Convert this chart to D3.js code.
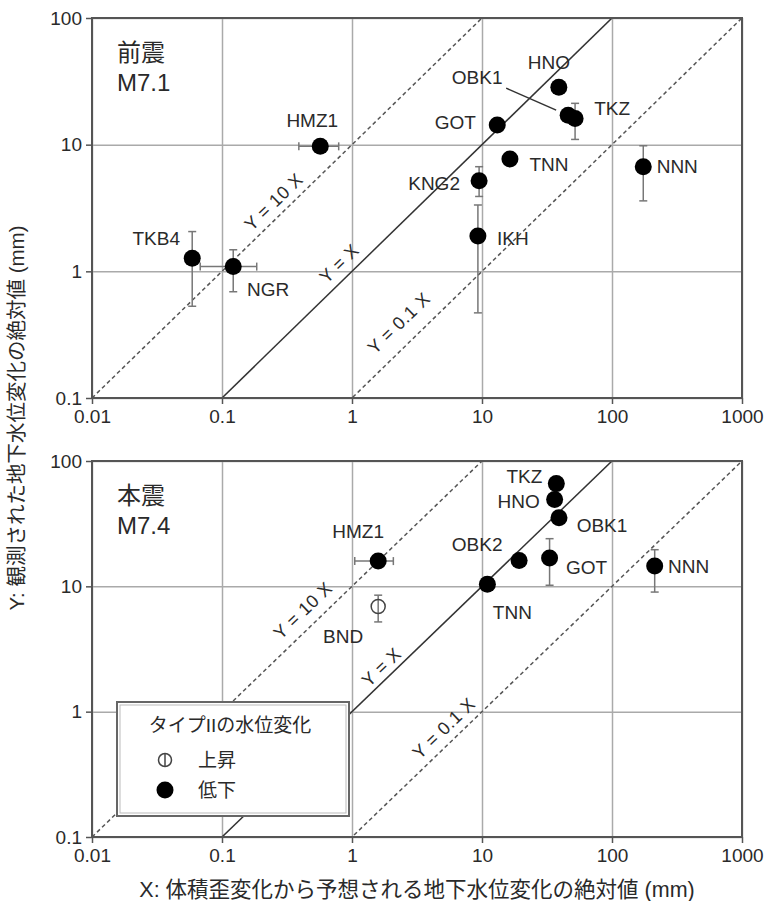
<!DOCTYPE html>
<html>
<head>
<meta charset="utf-8">
<script src="https://cdn.jsdelivr.net/npm/d3@7"></script>
<style>
  body { margin: 0; background: #fff; }
  svg text { font-family: "Liberation Sans", "Noto Sans CJK JP", sans-serif; fill: #2a2a2a; }
</style>
</head>
<body>
<svg id="chart" width="768" height="901"></svg>
<script>
// tick values (log axes)
var xTicks = [0.01, 0.1, 1, 10, 100, 1000];
var yTicks = [0.1, 1, 10, 100];

// 前震 M7.1
var foreNames = ["HMZ1", "TKB4", "NGR", "HNO", "OBK1", "TKZ", "GOT", "TNN", "KNG2", "IKH", "NNN"];
var foreX     = [0.57, 0.059, 0.122, 39, 46, 52, 13.1, 16.4, 9.5, 9.3, 174];
var foreY     = [9.7, 1.27, 1.09, 28.4, 17.1, 16.1, 14.3, 7.7, 5.2, 1.9, 6.7];
var foreXErr  = { HMZ1: [0.39, 0.79], NGR: [0.068, 0.185] };
var foreYErr  = { TKB4: [0.53, 2.06], NGR: [0.69, 1.48], TKZ: [11.0, 21.2], KNG2: [3.9, 6.7], IKH: [0.47, 3.34], NNN: [3.6, 9.8] };

// 本震 M7.4
var mainNames = ["HMZ1", "BND", "TKZ", "HNO", "OBK1", "OBK2", "GOT", "TNN", "NNN"];
var mainX     = [1.59, 1.59, 37.3, 36.2, 39.1, 19.3, 33.1, 11.0, 213];
var mainY     = [15.9, 6.9, 66, 49.4, 35.3, 16.1, 16.8, 10.4, 14.5];
var mainType  = ["低下", "上昇", "低下", "低下", "低下", "低下", "低下", "低下", "低下"];
var mainXErr  = { HMZ1: [1.05, 2.08] };
var mainYErr  = { BND: [5.2, 8.5], GOT: [10.2, 24], NNN: [9.0, 19.6] };

// reference lines Y = k X
var refK = [10, 1, 0.1];
var refText = ["Y = 10 X", "Y = X", "Y = 0.1 X"];

// label placement (pixels from the point)
var foreLabelOff = {
    HMZ1: [-8, -26], TKB4: [-36, -20], NGR: [35, 23], HNO: [-10, -25], OBK1: [-91, -38],
    TKZ: [37, -10], GOT: [-42, -2], TNN: [39, 5], KNG2: [-45, 3], IKH: [35, 2], NNN: [34, 0]
};
var mainLabelOff = {
    HMZ1: [-20, -30], BND: [-35, 30], TKZ: [-32, -7], HNO: [-36, 2], OBK1: [43, 8],
    OBK2: [-42, -16], GOT: [37, 9], TNN: [25, 28], NNN: [34, 0]
};

var svg = d3.select("#chart");
var left = 92, right = 742;
var xScale = d3.scaleLog().domain([0.01, 1000]).range([left, right]);

var panels = [
    { title: "前震", mag: "M7.1", top: 18, bottom: 398,
      names: foreNames, xs: foreX, ys: foreY, xErr: foreXErr, yErr: foreYErr,
      types: foreNames.map(function() { return "低下"; }), off: foreLabelOff,
      refAt: [0.25, 0.8, 2.3], refDy: [-19, -20, -29] },
    { title: "本震", mag: "M7.4", top: 461, bottom: 837,
      names: mainNames, xs: mainX, ys: mainY, xErr: mainXErr, yErr: mainYErr,
      types: mainType, off: mainLabelOff,
      refAt: [0.42, 1.69, 5.1], refDy: [-23, -16, -20] }
];

panels.forEach(function(p, pi) {
    var yScale = d3.scaleLog().domain([0.1, 100]).range([p.bottom, p.top]);
    var g = svg.append("g");
    var h = p.bottom - p.top;

    //gridlines
    g.append("g")
        .attr("transform", "translate(0," + p.bottom + ")")
        .call(d3.axisBottom(xScale).tickValues(xTicks).tickSize(-h).tickFormat(""))
        .call(function(a) { a.select(".domain").remove(); a.selectAll("line").attr("stroke", "#aaa").attr("stroke-width", 1.5); });
    g.append("g")
        .attr("transform", "translate(" + left + ",0)")
        .call(d3.axisLeft(yScale).tickValues(yTicks).tickSize(-(right - left)).tickFormat(""))
        .call(function(a) { a.select(".domain").remove(); a.selectAll("line").attr("stroke", "#aaa").attr("stroke-width", 1.5); });

    // clip for the reference lines
    var clipId = "clip" + pi;
    svg.append("clipPath").attr("id", clipId)
        .append("rect").attr("x", left).attr("y", p.top).attr("width", right - left).attr("height", h);

    var angle = -Math.atan((yScale(1) - yScale(10)) / (xScale(10) - xScale(1))) * 180 / Math.PI;

    refK.forEach(function(k, i) {
        g.append("line")
            .attr("clip-path", "url(#" + clipId + ")")
            .attr("x1", xScale(0.01)).attr("y1", yScale(0.01 * k))
            .attr("x2", xScale(1000)).attr("y2", yScale(1000 * k))
            .attr("stroke", k == 1 ? "#333" : "#555")
            .attr("stroke-width", 1.5)
            .attr("stroke-dasharray", k == 1 ? null : "4,3");
        var lx = xScale(p.refAt[i]), ly = yScale(p.refAt[i] * k) + p.refDy[i];
        g.append("text")
            .attr("transform", "translate(" + lx + "," + ly + ") rotate(" + angle + ")")
            .attr("text-anchor", "middle")
            .attr("dominant-baseline", "central")
            .attr("font-size", 18)
            .attr("letter-spacing", 0.5)
            .text(refText[i]);
    });

    // frame
    g.append("rect")
        .attr("x", left).attr("y", p.top).attr("width", right - left).attr("height", h)
        .attr("fill", "none").attr("stroke", "#555").attr("stroke-width", 2);

    // axes
    g.append("g")
        .attr("transform", "translate(" + left + ",0)")
        .call(d3.axisLeft(yScale).tickValues(yTicks).tickSize(6).tickPadding(4).tickFormat(String))
        .call(function(a) {
            a.select(".domain").remove();
            a.selectAll("line").attr("stroke", "#555").attr("stroke-width", 1.5);
            a.selectAll("text").attr("font-size", 19).attr("font-family", null).attr("fill", null);
        });
    g.append("g")
        .attr("transform", "translate(0," + p.bottom + ")")
        .call(d3.axisBottom(xScale).tickValues(xTicks).tickSize(6).tickPadding(6).tickFormat(String))
        .call(function(a) {
            a.select(".domain").remove();
            a.selectAll("line").attr("stroke", "#555").attr("stroke-width", 1.5);
            a.selectAll("text").attr("font-size", 19).attr("font-family", null).attr("fill", null);
        });

    // panel title
    g.append("text").attr("x", 117).attr("y", p.top + 43).attr("font-size", 24).text(p.title);
    g.append("text").attr("x", 117).attr("y", p.top + 73).attr("font-size", 24).text(p.mag);

    var pts = p.names.map(function(n, i) {
        return { name: n, x: p.xs[i], y: p.ys[i], type: p.types[i] };
    });

    // error bars
    var cap = 4;
    pts.forEach(function(d) {
        var cx = xScale(d.x), cy = yScale(d.y);
        if (p.yErr[d.name]) {
            var y0 = yScale(p.yErr[d.name][0]), y1 = yScale(p.yErr[d.name][1]);
            g.append("line").attr("x1", cx).attr("x2", cx).attr("y1", y0).attr("y2", y1);
            g.append("line").attr("x1", cx - cap).attr("x2", cx + cap).attr("y1", y0).attr("y2", y0);
            g.append("line").attr("x1", cx - cap).attr("x2", cx + cap).attr("y1", y1).attr("y2", y1);
        }
        if (p.xErr[d.name]) {
            var x0 = xScale(p.xErr[d.name][0]), x1 = xScale(p.xErr[d.name][1]);
            g.append("line").attr("x1", x0).attr("x2", x1).attr("y1", cy).attr("y2", cy);
            g.append("line").attr("x1", x0).attr("x2", x0).attr("y1", cy - cap).attr("y2", cy + cap);
            g.append("line").attr("x1", x1).attr("x2", x1).attr("y1", cy - cap).attr("y2", cy + cap);
        }
    });
    g.selectAll("line:not([stroke])").attr("stroke", "#777").attr("stroke-width", 1.5);

    // points
    g.selectAll("circle.pt")
        .data(pts)
        .enter()
        .append("circle")
        .attr("class", "pt")
        .attr("cx", function(d) { return xScale(d.x); })
        .attr("cy", function(d) { return yScale(d.y); })
        .attr("r", function(d) { return d.type == "上昇" ? 7 : 8.5; })
        .attr("fill", function(d) { return d.type == "上昇" ? "none" : "#000"; })
        .attr("stroke", function(d) { return d.type == "上昇" ? "#444" : "none"; })
        .attr("stroke-width", 1.5);

    // point labels
    pts.forEach(function(d) {
        var o = p.off[d.name];
        g.append("text")
            .attr("x", xScale(d.x) + o[0])
            .attr("y", yScale(d.y) + o[1])
            .attr("text-anchor", "middle")
            .attr("dominant-baseline", "central")
            .attr("font-size", 19)
            .text(d.name);
    });

    // OBK1 leader line in the foreshock panel
    if (pi == 0) {
        var i = p.names.indexOf("OBK1");
        var ox = xScale(p.xs[i]), oy = yScale(p.ys[i]);
        g.append("line")
            .attr("x1", ox - 62).attr("y1", oy - 27)
            .attr("x2", ox - 12).attr("y2", oy - 5)
            .attr("stroke", "#333").attr("stroke-width", 1.5);
    }

    // legend in the mainshock panel
    if (pi == 1) {
        var lg = g.append("g").attr("transform", "translate(117,702)");
        lg.append("rect").attr("width", 232).attr("height", 114)
            .attr("fill", "#fff").attr("stroke", "#666").attr("stroke-width", 2);
        lg.append("rect").attr("x", 3).attr("y", 3).attr("width", 226).attr("height", 108)
            .attr("fill", "none").attr("stroke", "#bbb").attr("stroke-width", 1);
        lg.append("text").attr("x", 113).attr("y", 23).attr("text-anchor", "middle")
            .attr("dominant-baseline", "central").attr("font-size", 19).text("タイプIIの水位変化");
        lg.append("circle").attr("cx", 48).attr("cy", 58).attr("r", 6.5)
            .attr("fill", "none").attr("stroke", "#444").attr("stroke-width", 1.5);
        lg.append("line").attr("x1", 48).attr("x2", 48).attr("y1", 51).attr("y2", 65)
            .attr("stroke", "#444").attr("stroke-width", 1.5);
        lg.append("text").attr("x", 81).attr("y", 58).attr("dominant-baseline", "central")
            .attr("font-size", 19).text("上昇");
        lg.append("circle").attr("cx", 48).attr("cy", 88).attr("r", 8.5).attr("fill", "#000");
        lg.append("text").attr("x", 81).attr("y", 88).attr("dominant-baseline", "central")
            .attr("font-size", 19).text("低下");
    }
});

// axis titles
svg.append("text")
    .attr("transform", "translate(16,418) rotate(-90)")
    .attr("text-anchor", "middle")
    .attr("dominant-baseline", "central")
    .attr("font-size", 20.5)
    .text("Y: 観測された地下水位変化の絶対値 (mm)");
svg.append("text")
    .attr("x", 417).attr("y", 890)
    .attr("text-anchor", "middle")
    .attr("dominant-baseline", "central")
    .attr("font-size", 21.5)
    .text("X: 体積歪変化から予想される地下水位変化の絶対値 (mm)");
</script>
</body>
</html>
